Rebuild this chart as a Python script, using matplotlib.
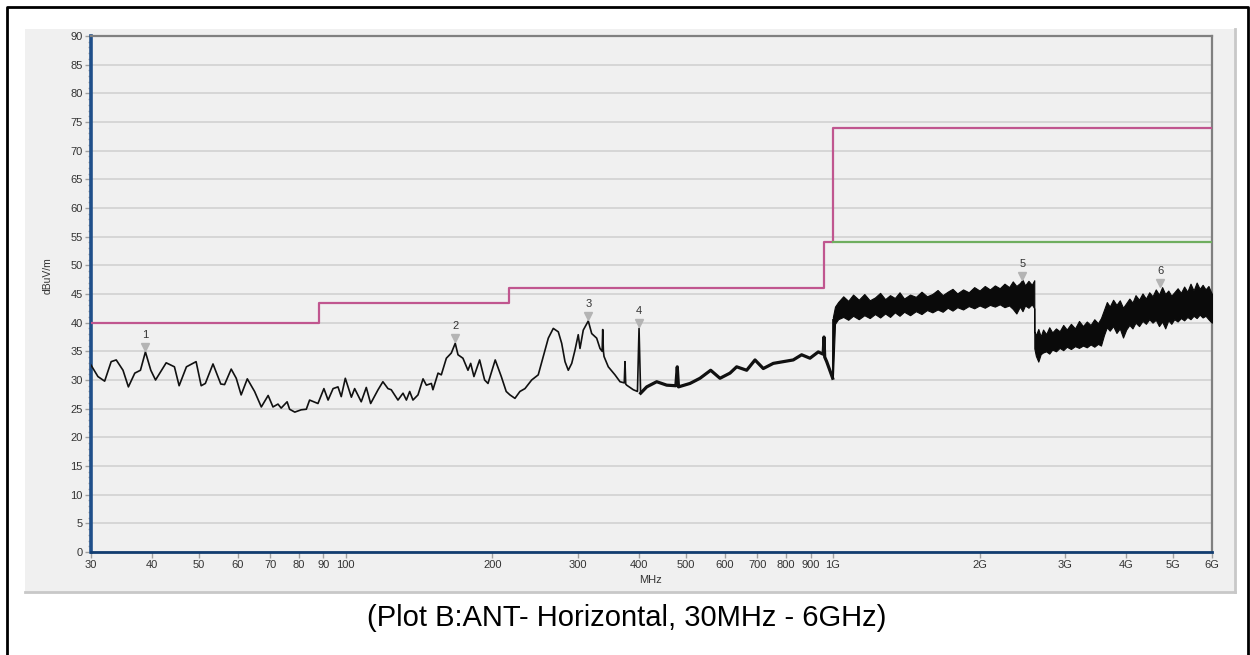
import numpy as np
import matplotlib
matplotlib.use('Agg')
from matplotlib import pyplot as plt
from matplotlib.patches import Rectangle
from matplotlib.lines import Line2D

# measured trace below 1 GHz (MHz, dBuV/m)
freq_low = [30.0, 31.0, 32.0, 33.0, 33.8, 34.9, 35.8, 36.9, 37.9, 38.8, 39.8, 40.7,
            42.8, 44.5, 45.5, 47.1, 49.3, 50.5, 51.5, 53.4, 55.4, 56.4, 58.2, 59.6,
            61.0, 62.8, 65.0, 67.1, 69.3, 70.9, 72.6, 73.7, 75.8, 76.7, 78.6, 81.0,
            83.0, 84.3, 87.7, 90.2, 92.0, 94.2, 96.4, 97.9, 99.8, 102.7, 104.3, 107.6,
            110.2, 112.5, 116.5, 119.2, 122.1, 124.0, 128.0, 131.1, 133.2, 135.3, 137.4,
            140.7, 144.1, 146.4, 149.9, 151.0, 154.7, 157.1, 160.9, 164.7, 167.8, 170.0,
            174.0, 178.2, 180.5, 183.3, 188.3, 192.8, 195.9, 202.7, 208.6, 213.5, 217.3,
            222.5, 227.8, 233.3, 240.8, 248.4, 254.4, 260.5, 266.7, 273.1, 277.5, 281.9,
            286.3, 291.0, 295.5, 300.1, 302.6, 307.3, 314.7, 319.8, 327.4, 332.6, 336.0,
            336.9, 338.0, 339.0, 345.9, 357.0, 365.6, 373.0, 374.3, 375.6, 377.3, 389.3,
            397.0, 400.0, 403.0, 414.8, 434.8, 455.9, 476.0, 479.2, 482.0, 508.9, 533.5,
            561.2, 586.4, 614.8, 634.5, 665.3, 692.0, 719.6, 754.4, 790.9, 829.1, 862.6,
            897.3, 933.2, 955.0, 958.7, 962.0, 971.1, 999.0]
level_low = [32.6, 30.6, 29.8, 33.2, 33.5, 31.7, 28.8, 31.2, 31.7, 34.9, 31.7, 30.0,
             33.0, 32.3, 29.0, 32.3, 33.2, 29.0, 29.4, 32.8, 29.3, 29.2, 31.9, 30.3,
             27.4, 30.2, 28.0, 25.3, 27.3, 25.3, 25.8, 25.1, 26.2, 24.9, 24.4, 24.8,
             24.9, 26.5, 25.9, 28.5, 26.5, 28.5, 28.8, 27.1, 30.3, 27.0, 28.5, 26.2,
             28.7, 25.9, 28.3, 29.7, 28.5, 28.3, 26.5, 27.7, 26.5, 28.0, 26.5,
             27.4, 30.2, 29.1, 29.4, 28.3, 31.2, 30.9, 33.8, 34.7, 36.4, 34.4,
             33.8, 31.7, 32.9, 30.6, 33.5, 30.0, 29.4, 33.5, 30.6, 28.0, 27.4,
             26.8, 28.0, 28.5, 30.0, 30.9, 34.1, 37.3, 39.0, 38.4, 36.4, 33.2,
             31.7, 32.9, 35.2, 37.9, 35.5, 38.7, 40.3, 38.1, 37.3, 35.5, 35.0,
             38.8, 35.0, 34.1, 32.3, 30.9, 29.7, 29.5, 33.2, 29.3, 29.1, 28.3,
             28.0, 39.0, 27.7, 28.8, 29.7, 29.1, 29.0, 32.3, 28.8, 29.4, 30.3,
             31.7, 30.3, 31.2, 32.3, 31.7, 33.5, 32.0, 32.9, 33.2, 33.5, 34.4,
             33.8, 34.9, 34.5, 37.5, 34.0, 33.2, 30.3]

# dense 1-6 GHz sweep, read as upper / lower envelope of the black band
freq_high = [1000, 1010, 1025, 1050, 1075, 1100, 1130, 1160, 1190, 1220, 1250, 1280,
             1310, 1340, 1370, 1400, 1440, 1480, 1520, 1560, 1600, 1640, 1680, 1720,
             1760, 1800, 1850, 1900, 1950, 2000, 2050, 2100, 2150, 2200, 2250, 2300,
             2340, 2380, 2420, 2450, 2480, 2520, 2560, 2590,
             2591, 2610, 2640, 2670, 2700, 2740, 2780, 2820, 2870, 2920, 2970, 3020,
             3080, 3140, 3200, 3260, 3320, 3380, 3440, 3500, 3550, 3600, 3650, 3700,
             3760, 3820, 3880, 3940, 4000, 4060, 4120, 4180, 4250, 4320, 4390, 4460,
             4530, 4600, 4670, 4740, 4810, 4880, 4950, 5020, 5100, 5180, 5260, 5340,
             5420, 5500, 5580, 5660, 5740, 5820, 5900, 5960, 6000]
upper_high = [41.0, 42.8, 43.6, 44.6, 43.8, 44.9, 44.0, 45.0, 43.9, 44.4, 45.2, 44.1,
              44.8, 44.3, 45.3, 44.2, 44.9, 44.5, 45.4, 44.6, 45.0, 45.7, 44.8, 45.4,
              45.9, 45.1, 45.8, 45.3, 46.2, 45.6, 46.4, 45.8, 46.5, 46.0, 46.8, 46.2,
              47.2, 46.4, 46.9, 47.5, 46.5, 47.3, 46.6, 47.4,
              38.5, 37.8, 38.9, 37.6, 38.8, 38.0, 39.2, 38.3, 39.0, 38.5, 39.6, 38.8,
              39.8, 39.0, 40.3, 39.4, 40.2, 39.6, 40.6, 39.9, 40.8, 42.2, 43.6, 42.8,
              44.0, 43.1, 43.9, 42.6, 43.4, 44.2, 43.5, 44.8, 44.0, 45.1, 44.2, 45.3,
              44.6, 45.8, 44.9, 46.2, 45.0, 45.6, 44.7, 45.3, 46.0, 45.2, 46.3, 45.4,
              46.8, 45.6, 47.0, 45.9, 46.6, 45.8, 46.4, 45.5, 45.0]
lower_high = [30.5, 39.8, 40.6, 41.0, 40.5, 41.2, 40.6, 41.3, 40.8, 41.5, 40.9, 41.6,
              41.0, 41.8, 41.2, 41.9, 41.3, 42.0, 41.5, 42.2, 41.8, 42.3, 41.9, 42.6,
              42.1, 42.7, 42.3, 42.9, 42.5, 43.0, 42.6, 43.1, 42.8, 43.2, 42.7, 43.0,
              42.4, 41.6, 42.8, 42.0, 43.0, 42.6, 43.2, 42.5,
              35.5, 34.2, 33.2, 34.5, 34.8, 35.0, 34.6, 35.3, 35.0, 35.6, 35.2, 35.8,
              35.4, 35.9, 35.6, 36.0, 35.7, 36.2, 35.8, 36.3, 36.0, 37.8, 39.2, 38.6,
              39.4, 38.2, 39.0, 37.4, 38.8, 39.6, 39.0, 40.0, 39.4, 40.3, 39.8, 40.6,
              40.0, 40.5, 39.4, 40.2, 39.0, 40.4, 39.8, 40.6, 40.2, 40.8, 40.4, 41.0,
              40.6, 41.2, 40.8, 41.4, 40.9, 41.2, 40.6, 40.2, 40.0]

# limit lines
limit_freq = [30, 88, 88, 216, 216, 960, 960, 1000, 1000, 6000]
limit_qp = [40, 40, 43.5, 43.5, 46, 46, 54, 54, 74, 74]
avg_freq = [1000, 6000]
avg_limit = [54, 54]

# marker peaks
mark_no = ['1', '2', '3', '4', '5', '6']
mark_freq = [38.8, 167.8, 314.7, 400.0, 2448, 4693]
mark_level = [34.9, 36.4, 40.3, 39.0, 47.3, 46.0]

xticks = [30, 40, 50, 60, 70, 80, 90, 100, 200, 300, 400, 500, 600, 700, 800, 900,
          1000, 2000, 3000, 4000, 5000, 6000]
xtick_labels = ['30', '40', '50', '60', '70', '80', '90', '100', '200', '300', '400',
                '500', '600', '700', '800', '900', '1G', '2G', '3G', '4G', '5G', '6G']

W, H = 1250, 655
fig = plt.figure(figsize=(W / 100, H / 100), dpi=100, facecolor='white')
plt.rcParams['font.family'] = ['Liberation Sans', 'DejaVu Sans']

# gray panel behind the chart
fig.add_artist(Rectangle((25 / W, 1 - 592 / H), (1235 - 25) / W, (592 - 29) / H,
                         transform=fig.transFigure, facecolor='#f0f0f0',
                         edgecolor='none', zorder=0))
fig.add_artist(Line2D([1235 / W, 1235 / W], [1 - 592 / H, 1 - 29 / H],
                      transform=fig.transFigure, color='#c8c8c8', lw=2))
fig.add_artist(Line2D([25 / W, 1235 / W], [1 - 592 / H, 1 - 592 / H],
                      transform=fig.transFigure, color='#c8c8c8', lw=2))
# outer black frame
fig.add_artist(Line2D([7 / W, 7 / W, 1248 / W, 1248 / W], [0, 1 - 7 / H, 1 - 7 / H, 0],
                      transform=fig.transFigure, color='black', lw=2))

ax = fig.add_axes([91 / W, 1 - 552 / H, (1212 - 91) / W, (552 - 36) / H])
ax.set_facecolor('#f0f0f0')
ax.set_xscale('log')
ax.set_xlim(30, 6000)
ax.set_ylim(0, 90)

ax.set_yticks(np.arange(0, 91, 5))
ax.set_yticks(np.arange(0, 91, 1), minor=True)
ax.grid(axis='y', which='major', color='#d6d6d6', lw=1.4)
ax.set_axisbelow(True)

ax.set_xticks(xticks)
ax.set_xticklabels(xtick_labels)
ax.xaxis.set_minor_locator(matplotlib.ticker.NullLocator())
ax.tick_params(axis='both', which='major', length=4, width=1, color='#a0a0a0',
               labelsize=8, labelcolor='#333333', pad=2)
ax.tick_params(axis='y', which='minor', length=2.5, width=1, color='#b0b0b0')

for side in ['top', 'right']:
    ax.spines[side].set_color('#808080')
    ax.spines[side].set_linewidth(1.6)
ax.spines['left'].set_color('#1f4f8a')
ax.spines['left'].set_linewidth(2.6)
ax.spines['bottom'].set_color('#123d70')
ax.spines['bottom'].set_linewidth(2.0)

ax.plot(limit_freq, limit_qp, color='#c0568f', lw=1.6, zorder=3)
ax.plot(avg_freq, avg_limit, color='#6fae5f', lw=1.6, zorder=3)

fl = np.array(freq_low)
lv = np.array(level_low)
ax.plot(fl, lv, color='#111111', lw=1.2, zorder=4)
# the sweep above ~400 MHz is visibly noisier, drawn heavier
dense = fl >= 403
ax.plot(fl[dense], lv[dense], color='#111111', lw=2.3, zorder=4)
ax.plot([999.0, 1000], [30.3, 40.5], color='#111111', lw=1.1, zorder=4)
ax.fill_between(freq_high, lower_high, upper_high, color='#0a0a0a', lw=0.8,
                edgecolor='#0a0a0a', zorder=4)

for n, f, l in zip(mark_no, mark_freq, mark_level):
    ax.plot(f, l + 0.9, marker='v', color='#b4b4b4', markersize=5.5, zorder=5)
    ax.text(f, l + 3.0, n, ha='center', va='center', fontsize=8, color='#333333',
            zorder=5)

fig.text(650 / W, 1 - 580 / H, 'MHz', ha='center', va='center', fontsize=8,
         color='#333333')
fig.text(48 / W, 1 - 276 / H, 'dBuV/m', ha='center', va='center', fontsize=7.5,
         rotation=90, color='#333333')
fig.text(627 / W, 1 - 618 / H, '(Plot B:ANT- Horizontal, 30MHz - 6GHz)',
         ha='center', va='center', fontsize=21, color='black')

fig.savefig('out.png', dpi=100, facecolor='white')
